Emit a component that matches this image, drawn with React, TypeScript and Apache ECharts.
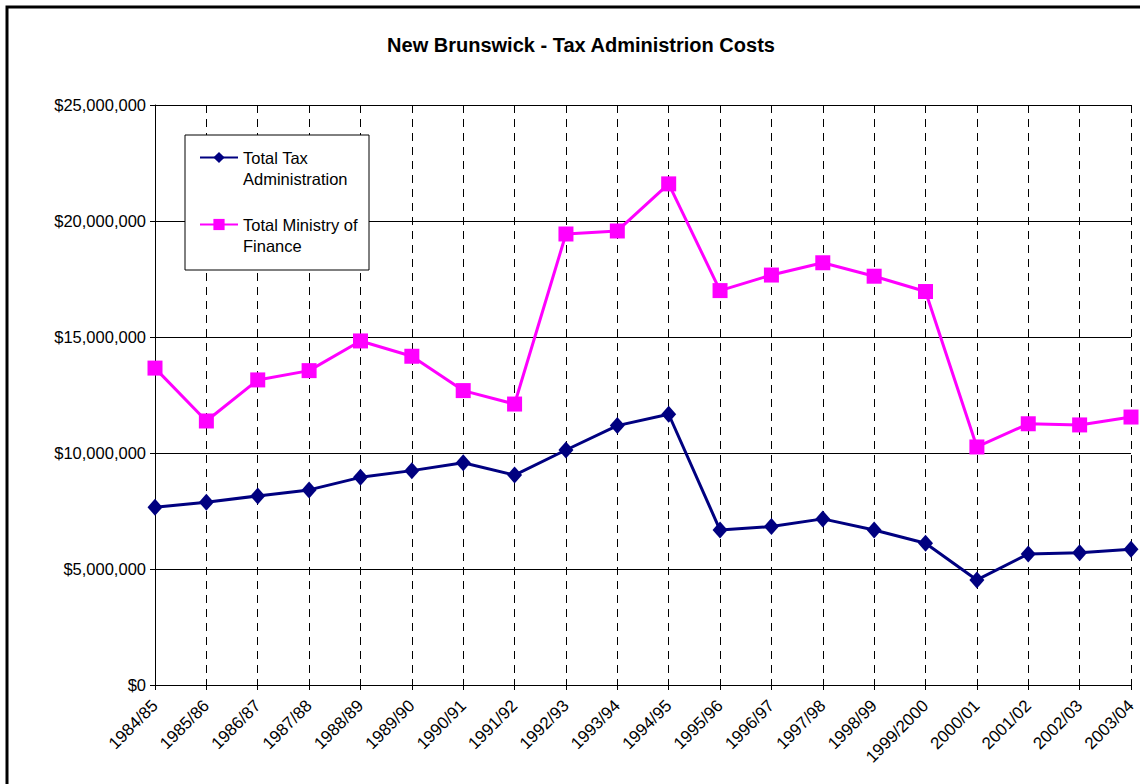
import React, { useEffect, useRef } from "react";
import * as echarts from "echarts";

const categories = [
  "1984/85", "1985/86", "1986/87", "1987/88", "1988/89", "1989/90", "1990/91",
  "1991/92", "1992/93", "1993/94", "1994/95", "1995/96", "1996/97", "1997/98",
  "1998/99", "1999/2000", "2000/01", "2001/02", "2002/03", "2003/04",
];

const taxAdministration = [
  7660000, 7880000, 8150000, 8410000, 8950000, 9240000, 9580000, 9050000,
  10130000, 11180000, 11670000, 6680000, 6830000, 7160000, 6680000, 6110000,
  4530000, 5650000, 5700000, 5850000,
];

const ministryOfFinance = [
  13660000, 11380000, 13150000, 13550000, 14830000, 14170000, 12690000,
  12110000, 19440000, 19570000, 21600000, 17000000, 17670000, 18200000,
  17620000, 16960000, 10260000, 11260000, 11210000, 11550000,
];

const yTicks = { min: 0, max: 25000000, interval: 5000000 };

const seriesNames = ["Total Tax Administration", "Total Ministry of Finance"];
const legendLabels: Record<string, string> = {
  "Total Tax Administration": "\nTotal Tax\nAdministration",
  "Total Ministry of Finance": "\nTotal Ministry of\nFinance",
};

const FONT = "Arial, 'Liberation Sans', sans-serif";

export default function App() {
  const ref = useRef<HTMLDivElement>(null);
  useEffect(() => {
    if (!ref.current) return;
    const chart = echarts.init(ref.current, null, { renderer: "svg" });
    chart.setOption({
      animation: false,
      backgroundColor: "#fff",
      title: {
        text: "New Brunswick - Tax Administrion Costs",
        left: 581,
        top: 35,
        textAlign: "center",
        padding: 0,
        textStyle: { fontFamily: FONT, fontSize: 20, fontWeight: "bold", color: "#000" },
      },
      grid: { left: 155, right: 9, top: 105, bottom: 99, containLabel: false },
      legend: {
        orient: "vertical",
        left: 199,
        top: 126,
        padding: 0,
        itemWidth: 38,
        itemHeight: 14,
        itemGap: 4,
        z: 5,
        formatter: (name: string) => legendLabels[name] || name,
        textStyle: {
          fontFamily: FONT,
          fontSize: 16.5,
          color: "#000",
          lineHeight: 21,
        },
        data: seriesNames,
      },
      graphic: [
        {
          type: "rect",
          z: 3,
          shape: { x: 185, y: 135, width: 184, height: 135 },
          style: { fill: "#fff", stroke: "#000", lineWidth: 1 },
        },
        {
          type: "polyline",
          z: 10,
          silent: true,
          shape: { points: [[7, 900], [7, 7], [1200, 7]] },
          style: { fill: "none", stroke: "#000", lineWidth: 3 },
        },
      ],
      xAxis: {
        type: "category",
        data: categories,
        boundaryGap: false,
        axisLine: { show: true, lineStyle: { color: "#000", width: 1 } },
        axisTick: { show: true, length: 5, lineStyle: { color: "#000" } },
        axisLabel: {
          interval: 0,
          rotate: 45,
          margin: 18,
          fontFamily: FONT,
          fontSize: 17,
          color: "#000",
        },
        splitLine: {
          show: true,
          interval: 0,
          lineStyle: { color: "#000", width: 1, type: [8, 6] },
        },
      },
      yAxis: {
        type: "value",
        min: yTicks.min,
        max: yTicks.max,
        interval: yTicks.interval,
        axisLine: { show: true, lineStyle: { color: "#000", width: 1 } },
        axisTick: { show: true, length: 5, lineStyle: { color: "#000" } },
        axisLabel: {
          margin: 9,
          fontFamily: FONT,
          fontSize: 16.5,
          color: "#000",
          formatter: (v: number) => "$" + v.toLocaleString("en-US"),
        },
        splitLine: { show: true, lineStyle: { color: "#000", width: 1 } },
      },
      series: [
        {
          name: seriesNames[0],
          type: "line",
          data: taxAdministration,
          symbol: "diamond",
          symbolSize: [15, 17],
          color: "#000080",
          lineStyle: { color: "#000080", width: 3 },
          itemStyle: { color: "#000080" },
          z: 2,
        },
        {
          name: seriesNames[1],
          type: "line",
          data: ministryOfFinance,
          symbol: "rect",
          symbolSize: 15,
          color: "#FF00FF",
          lineStyle: { color: "#FF00FF", width: 3 },
          itemStyle: { color: "#FF00FF" },
          z: 2,
        },
      ],
    });
    return () => chart.dispose();
  }, []);
  return (
    <div
      ref={ref}
      style={{ position: "fixed", left: 0, top: 0, width: 1140, height: 784 }}
    />
  );
}
